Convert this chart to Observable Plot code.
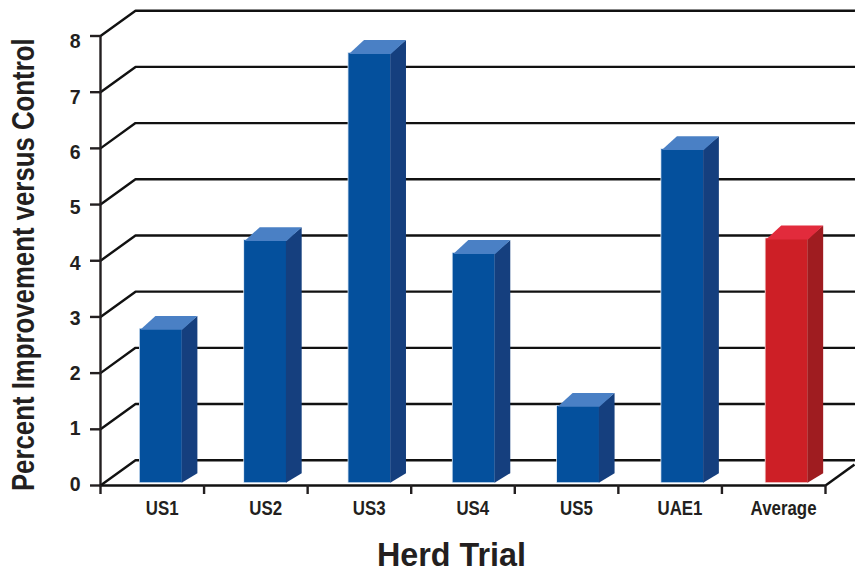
<!DOCTYPE html>
<html>
<head>
<meta charset="utf-8">
<script src="https://cdn.jsdelivr.net/npm/d3@7"></script>
<script src="https://cdn.jsdelivr.net/npm/@observablehq/plot@0.6"></script>
<style>
html,body{margin:0;padding:0;background:#fff;overflow:hidden}
svg{display:block}
</style>
</head>
<body>
<div id="chart"></div>
<script>
const categories = ["US1","US2","US3","US4","US5","UAE1","Average"];
const values = [2.78,4.36,7.69,4.13,1.41,5.98,4.39];
const gridLevels = [0,1,2,3,4,5,6,7,8];
const slots = [0,1,2,3,4,5,6,7];
const yTitle = "Percent Improvement versus Control";
const xTitle = "Herd Trial";

const ink = "#231f20";
const font = "Liberation Sans, Arial, sans-serif";
// projection of the chart's depth, in axis units
const wallDX = 0.338, wallDY = 0.45, xEnd = 7.28;
const barW = 0.405, barDX = 0.146, barTopDY = 0.238, barFootDY = 0.17, barBase = 0.05, seam = 0.006;
const slotCentre = 0.587, barStep = 1.007;
// tick labels sit on a slightly tighter pitch than the ticks in the reference
const labelPitch = 0.984, labelLift = 0.018;

const bars = categories.map((name,i)=>{
  const c = i*barStep + slotCentre;
  return {name, value: values[i], x1: c - barW/2, x2: c + barW/2, labelX: i + 0.595, isAverage: name === "Average"};
});
const front = bars.map(b=>({...b, y1: barBase, y2: b.value}));
const face = (fn)=>bars.flatMap((b,i)=>fn(b).map(([x,y])=>({x,y,k:i,isAverage:b.isAverage})));
const sides = face(b=>[[b.x2-seam,barBase],[b.x2+barDX,barBase+barFootDY],[b.x2+barDX,b.value+barTopDY],[b.x2-seam,b.value],[b.x2-seam,barBase]]);
const tops = face(b=>[[b.x1,b.value-0.01],[b.x2,b.value-0.01],[b.x2+barDX,b.value+barTopDY],[b.x1+barDX,b.value+barTopDY],[b.x1,b.value-0.01]]);
const grid = gridLevels.flatMap(v=>[[0,v],[wallDX,v+wallDY],[xEnd,v+wallDY]].map(([x,y])=>({x,y,v})));

const isBlue = d=>!d.isAverage, isRed = d=>d.isAverage;
const faceMark = (data, test, fill)=>Plot.line(data.filter(test),{x:"x",y:"y",z:"k",fill,stroke:"none",curve:"linear"});

const chart = Plot.plot({
  width:855, height:574,
  marginLeft:100, marginRight:30, marginTop:35.5, marginBottom:89,
  style:{background:"#fff", fontFamily:font},
  x:{domain:[0,7], axis:null},
  y:{domain:[0,8], axis:null},
  marks:[
    Plot.line(grid,{x:"x",y:"y",z:"v",stroke:"#111",strokeWidth:2.4,curve:"linear"}),
    Plot.link([0],{x1:7,y1:0,x2:xEnd,y2:(xEnd-7)/wallDX*wallDY,stroke:"#111",strokeWidth:2.4}),
    Plot.rect(front.filter(isBlue),{x1:"x1",x2:"x2",y1:"y1",y2:"y2",fill:"#04509d",stroke:"#d3e2f3",strokeWidth:1.6}),
    Plot.rect(front.filter(isRed),{x1:"x1",x2:"x2",y1:"y1",y2:"y2",fill:"#cd1f26",stroke:"#f5d9d9",strokeWidth:1.6}),
    Plot.rect(front.filter(isBlue),{x1:"x1",x2:"x2",y1:"y1",y2:"y2",fill:"#04509d"}),
    Plot.rect(front.filter(isRed),{x1:"x1",x2:"x2",y1:"y1",y2:"y2",fill:"#cd1f26"}),
    faceMark(sides,isBlue,"#153f7e"),
    faceMark(sides,isRed,"#9f1c20"),
    faceMark(tops,isBlue,"#4a80c5"),
    faceMark(tops,isRed,"#e22b3c"),
    Plot.ruleX([0],{y1:0,y2:8,stroke:ink,strokeWidth:2.4}),
    Plot.ruleY([0],{x1:0,x2:7,stroke:"#111",strokeWidth:2.6}),
    Plot.axisY({ticks:gridLevels,tickSize:10,stroke:ink,strokeWidth:2.4,tickFormat:()=>"",label:null}),
    Plot.axisX({ticks:slots,tickSize:9,stroke:ink,strokeWidth:2.4,tickFormat:()=>"",label:null}),
    Plot.text(gridLevels,{x:()=>0,y:d=>d*labelPitch+labelLift,text:d=>String(d),dx:-20,textAnchor:"end",fontSize:19.5,fontWeight:"bold",fill:ink}),
    Plot.text(bars,{x:"labelX",y:()=>0,text:"name",dy:23,fontSize:19.5,fontWeight:"bold",fill:ink,textAnchor:"middle"}),
    Plot.text([yTitle],{frameAnchor:"left",dx:-76,dy:4,rotate:-90,lineAnchor:"middle",fontSize:31,fontWeight:"bold",fill:ink,textAnchor:"middle"}),
    Plot.text([xTitle],{frameAnchor:"bottom",lineAnchor:"middle",dy:70,dx:-11.5,fontSize:34,fontWeight:"bold",fill:ink})
  ]
});
document.getElementById("chart").append(chart);

// the reference uses a condensed face: compress the installed bold sans to match
const squeeze = new Map([[yTitle,0.832],[xTitle,0.95],...categories.map(c=>[c,0.865])]);
chart.querySelectorAll("text").forEach(t=>{
  const k = squeeze.get(t.textContent);
  if (k) t.setAttribute("transform", `${t.getAttribute("transform")||""} scale(${k},1)`);
});
</script>
</body>
</html>
